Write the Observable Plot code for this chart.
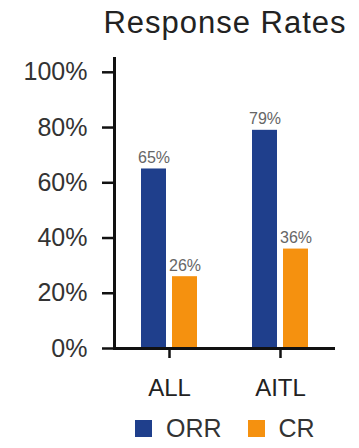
<!DOCTYPE html>
<html>
<head>
<meta charset="utf-8">
<script src="https://cdn.jsdelivr.net/npm/d3@7"></script>
<script src="https://cdn.jsdelivr.net/npm/@observablehq/plot@0.6"></script>
<style>
  html, body { margin: 0; padding: 0; background: #fff; }
  body { width: 359px; height: 448px; overflow: hidden; font-family: "Liberation Sans", Arial, sans-serif; }
  #title {
    height: 46px; line-height: 40px; padding-top: 3px; box-sizing: border-box;
    padding-left: 91px; text-align: center;
    font-size: 31px; letter-spacing: 1px; color: #222;
  }
  #legend {
    display: flex; align-items: center; height: 40px;
    padding-left: 135px; box-sizing: border-box;
    font-size: 25px; color: #333;
  }
  #legend .sw { width: 17px; height: 17px; margin-right: 14px; }
  #legend .item { display: flex; align-items: center; margin-right: 26px; }
</style>
</head>
<body>
<div id="title">Response Rates</div>
<div id="chart"></div>
<div id="legend"></div>
<script>
// Response rates by cohort
const categories = ["ALL", "AITL"];
const series = ["ORR", "CR"];
const orr = [65, 79];
const cr = [26, 36];
const colors = ["#1f3f8c", "#f5910f"];
const yTicks = [0, 20, 40, 60, 80, 100];

const orrRows = categories.map((c, i) => ({category: c, series: "ORR", value: orr[i]}));
const crRows = categories.map((c, i) => ({category: c, series: "CR", value: cr[i]}));
const pct = d => `${d.value}%`;

const chart = Plot.plot({
  width: 359,
  height: 362,
  marginTop: 12,
  marginBottom: 60,
  marginLeft: 114,
  marginRight: 24,
  style: {fontFamily: "'Liberation Sans', Arial, sans-serif", color: "#333", background: "white", fontSize: "24px"},
  x: {domain: categories, paddingInner: 0.495, paddingOuter: 0.24, align: 0.5, label: null},
  y: {domain: [0, 105], label: null},
  color: {domain: series, range: colors},
  marks: [
    // grouped bars: ORR on the left half of each band, CR on the right
    Plot.barY(orrRows, {x: "category", y: "value", fill: "series", insetRight: 31}),
    Plot.barY(crRows, {x: "category", y: "value", fill: "series", insetLeft: 31}),
    Plot.text(orrRows, {x: "category", y: "value", text: pct, dx: -15.5, dy: -11, fontSize: 16, fill: "#666"}),
    Plot.text(crRows, {x: "category", y: "value", text: pct, dx: 15.5, dy: -11, fontSize: 16, fill: "#666"}),
    Plot.axisY({ticks: yTicks, tickFormat: d => `${d}%`, tickSize: 12, tickPadding: 15, fontSize: 25, strokeWidth: 2.5, stroke: "#111", fill: "#333", label: null}),
    Plot.axisX({tickSize: 10, tickPadding: 20, fontSize: 24, strokeWidth: 2.5, stroke: "#111", fill: "#222", label: null}),
    Plot.frame({anchor: "left", strokeWidth: 3, stroke: "#111"}),
    Plot.ruleY([0], {strokeWidth: 3, stroke: "#111"})
  ]
});
document.getElementById("chart").append(chart);

// Legend swatches
const legend = d3.select("#legend");
series.forEach((s, i) => {
  const item = legend.append("div").attr("class", "item");
  item.append("div").attr("class", "sw").style("background", colors[i]);
  item.append("span").text(s);
});
</script>
</body>
</html>
